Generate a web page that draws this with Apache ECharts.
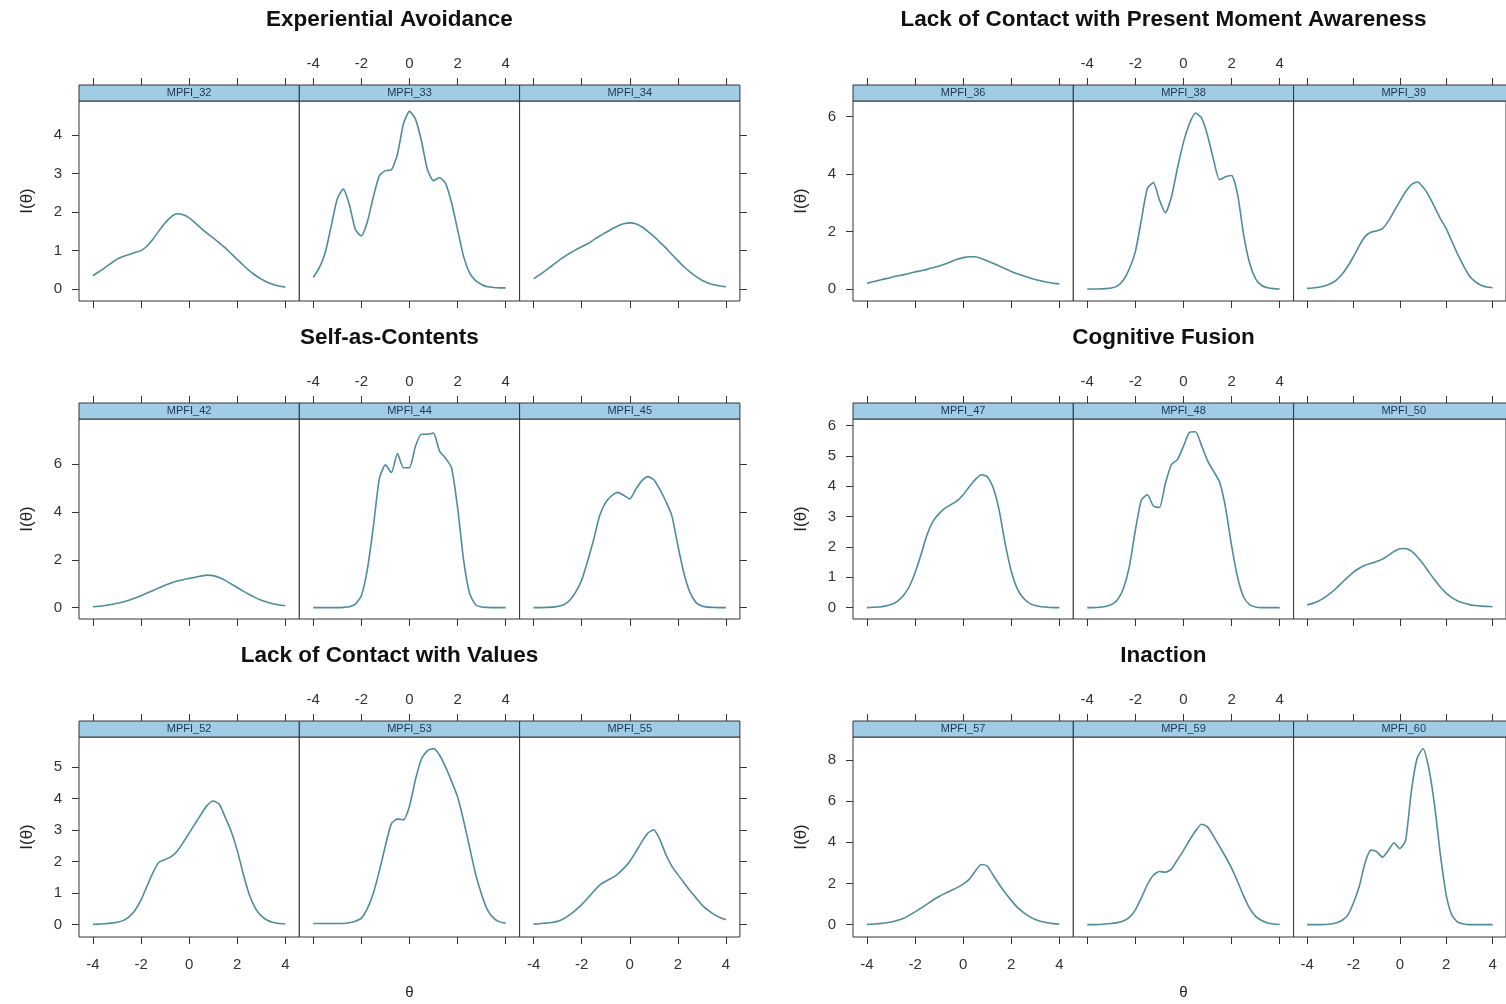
<!DOCTYPE html>
<html>
<head>
<meta charset="utf-8">
<title>Item information curves</title>
<script src="https://cdn.jsdelivr.net/npm/echarts@6/dist/echarts.min.js"></script>
<style>
  html, body { margin: 0; padding: 0; background: #ffffff; }
  #main { width: 1506px; height: 1004px; }
</style>
</head>
<body>
<div id="main"></div>
<script>
// ---- data -------------------------------------------------------------
const theta = [-4, -3.75, -3.5, -3.25, -3, -2.75, -2.5, -2.25, -2, -1.75, -1.5, -1.25, -1, -0.75, -0.5, -0.25,
  0, 0.25, 0.5, 0.75, 1, 1.25, 1.5, 1.75, 2, 2.25, 2.5, 2.75, 3, 3.25, 3.5, 3.75, 4];

const groupTitles = ['Experiential Avoidance', 'Lack of Contact with Present Moment Awareness',
  'Self-as-Contents', 'Cognitive Fusion', 'Lack of Contact with Values', 'Inaction'];

const groupItems = [
  ['MPFI_32', 'MPFI_33', 'MPFI_34'],
  ['MPFI_36', 'MPFI_38', 'MPFI_39'],
  ['MPFI_42', 'MPFI_44', 'MPFI_45'],
  ['MPFI_47', 'MPFI_48', 'MPFI_50'],
  ['MPFI_52', 'MPFI_53', 'MPFI_55'],
  ['MPFI_57', 'MPFI_59', 'MPFI_60']
];

const xTickValues = [-4, -2, 0, 2, 4];
const yTickValues = [
  [0, 1, 2, 3, 4],
  [0, 2, 4, 6],
  [0, 2, 4, 6],
  [0, 1, 2, 3, 4, 5, 6],
  [0, 1, 2, 3, 4, 5],
  [0, 2, 4, 6, 8]
];

// item information I(theta) at each theta
const MPFI_32 = [0.35, 0.45, 0.56, 0.67, 0.78, 0.85, 0.9, 0.95, 1.0, 1.12, 1.3, 1.52, 1.72, 1.88, 1.96, 1.93,
  1.85, 1.72, 1.58, 1.45, 1.33, 1.2, 1.07, 0.92, 0.77, 0.62, 0.48, 0.36, 0.26, 0.18, 0.12, 0.08, 0.05];
const MPFI_33 = [0.3, 0.55, 0.95, 1.65, 2.35, 2.6, 2.2, 1.55, 1.38, 1.75, 2.4, 2.95, 3.08, 3.1, 3.5, 4.3,
  4.62, 4.42, 3.85, 3.1, 2.82, 2.9, 2.75, 2.25, 1.55, 0.85, 0.42, 0.22, 0.12, 0.06, 0.04, 0.03, 0.03];
const MPFI_34 = [0.27, 0.37, 0.48, 0.6, 0.72, 0.83, 0.93, 1.02, 1.1, 1.18, 1.28, 1.38, 1.47, 1.56, 1.64, 1.7,
  1.72, 1.7, 1.62, 1.5, 1.37, 1.22, 1.07, 0.9, 0.74, 0.58, 0.45, 0.33, 0.23, 0.16, 0.11, 0.08, 0.06];

const MPFI_36 = [0.2, 0.25, 0.3, 0.35, 0.4, 0.45, 0.49, 0.54, 0.59, 0.63, 0.68, 0.74, 0.8, 0.87, 0.95, 1.03,
  1.09, 1.12, 1.12, 1.06, 0.98, 0.89, 0.8, 0.7, 0.61, 0.53, 0.46, 0.39, 0.33, 0.28, 0.23, 0.2, 0.17];
const MPFI_38 = [0, 0, 0, 0.01, 0.03, 0.1, 0.3, 0.7, 1.3, 2.4, 3.5, 3.7, 3.1, 2.65, 3.2, 4.2,
  5.1, 5.75, 6.12, 5.95, 5.35, 4.5, 3.8, 3.9, 3.95, 3.3, 1.9, 0.9, 0.35, 0.12, 0.04, 0.01, 0];
const MPFI_39 = [0.02, 0.03, 0.06, 0.1, 0.18, 0.3, 0.5, 0.78, 1.12, 1.5, 1.82, 1.97, 2.02, 2.1, 2.35, 2.7,
  3.05, 3.38, 3.63, 3.72, 3.55, 3.25, 2.85, 2.45, 2.1, 1.65, 1.2, 0.8, 0.45, 0.25, 0.13, 0.07, 0.04];

const MPFI_42 = [0.04, 0.06, 0.09, 0.13, 0.18, 0.24, 0.31, 0.4, 0.5, 0.61, 0.72, 0.83, 0.94, 1.03, 1.11, 1.17,
  1.22, 1.27, 1.32, 1.36, 1.34, 1.26, 1.14, 0.99, 0.84, 0.69, 0.55, 0.42, 0.31, 0.23, 0.16, 0.11, 0.08];
const MPFI_44 = [0, 0, 0, 0, 0, 0.01, 0.04, 0.15, 0.5, 1.6, 3.4, 5.4, 5.97, 5.65, 6.45, 5.85,
  5.85, 6.75, 7.25, 7.25, 7.3, 6.55, 6.25, 5.85, 4.2, 2.0, 0.6, 0.12, 0.03, 0.01, 0, 0, 0];
const MPFI_45 = [0, 0, 0.01, 0.02, 0.05, 0.12, 0.3, 0.65, 1.15, 1.95, 2.85, 3.85, 4.4, 4.68, 4.82, 4.7,
  4.55, 4.95, 5.3, 5.48, 5.35, 4.95, 4.45, 3.85, 2.6, 1.45, 0.65, 0.22, 0.07, 0.02, 0.01, 0, 0];

const MPFI_47 = [0, 0.01, 0.02, 0.05, 0.1, 0.2, 0.38, 0.68, 1.15, 1.75, 2.4, 2.85, 3.1, 3.28, 3.4, 3.52,
  3.72, 3.98, 4.22, 4.38, 4.32, 3.95, 3.2, 2.1, 1.2, 0.62, 0.32, 0.15, 0.07, 0.03, 0.01, 0, 0];
const MPFI_48 = [0, 0, 0.01, 0.04, 0.1, 0.25, 0.62, 1.35, 2.55, 3.55, 3.72, 3.35, 3.3, 4.1, 4.72, 4.88,
  5.32, 5.78, 5.8, 5.35, 4.85, 4.5, 4.15, 3.3, 2.05, 1.0, 0.35, 0.1, 0.02, 0, 0, 0, 0];
const MPFI_50 = [0.09, 0.14, 0.22, 0.33, 0.47, 0.63, 0.82, 1.0, 1.17, 1.3, 1.4, 1.46, 1.52, 1.6, 1.72, 1.85,
  1.94, 1.95, 1.86, 1.68, 1.45, 1.18, 0.92, 0.68, 0.48, 0.33, 0.22, 0.15, 0.1, 0.07, 0.05, 0.04, 0.03];

const MPFI_52 = [0, 0.01, 0.02, 0.04, 0.07, 0.12, 0.24, 0.45, 0.78, 1.22, 1.65, 1.98, 2.06, 2.15, 2.32, 2.6,
  2.9, 3.2, 3.5, 3.78, 3.92, 3.82, 3.4, 2.95, 2.35, 1.6, 0.95, 0.52, 0.27, 0.13, 0.06, 0.03, 0.02];
const MPFI_53 = [0.03, 0.03, 0.03, 0.03, 0.03, 0.03, 0.05, 0.1, 0.2, 0.5, 1.0, 1.7, 2.5, 3.2, 3.35, 3.32,
  3.75, 4.6, 5.25, 5.52, 5.58, 5.38, 5.0, 4.55, 4.05, 3.3, 2.45, 1.6, 0.95, 0.45, 0.2, 0.08, 0.04];
const MPFI_55 = [0.01, 0.02, 0.04, 0.06, 0.1, 0.18, 0.3, 0.45, 0.63, 0.83, 1.05, 1.25, 1.37, 1.47, 1.6, 1.78,
  2.0, 2.3, 2.62, 2.9, 3.0, 2.7, 2.22, 1.85, 1.58, 1.33, 1.08, 0.85, 0.62, 0.45, 0.32, 0.22, 0.15];

const MPFI_57 = [0.01, 0.03, 0.05, 0.08, 0.13, 0.2, 0.3, 0.45, 0.62, 0.8, 1.0, 1.2, 1.37, 1.52, 1.66, 1.8,
  1.97, 2.2, 2.6, 2.92, 2.85, 2.4, 1.95, 1.55, 1.18, 0.85, 0.6, 0.4, 0.25, 0.15, 0.09, 0.05, 0.03];
const MPFI_59 = [0, 0, 0.01, 0.03, 0.06, 0.1, 0.18, 0.35, 0.72, 1.3, 1.95, 2.4, 2.58, 2.55, 2.7, 3.15,
  3.6, 4.1, 4.55, 4.88, 4.75, 4.3, 3.8, 3.3, 2.75, 2.1, 1.4, 0.8, 0.4, 0.2, 0.08, 0.03, 0.01];
const MPFI_60 = [0, 0, 0, 0.01, 0.03, 0.08, 0.2, 0.45, 1.05, 1.85, 3.0, 3.62, 3.55, 3.28, 3.6, 3.98,
  3.7, 4.1, 6.5, 8.1, 8.55, 7.6, 5.8, 3.4, 1.45, 0.45, 0.12, 0.03, 0, 0, 0, 0, 0];

const groupSeries = [
  [MPFI_32, MPFI_33, MPFI_34],
  [MPFI_36, MPFI_38, MPFI_39],
  [MPFI_42, MPFI_44, MPFI_45],
  [MPFI_47, MPFI_48, MPFI_50],
  [MPFI_52, MPFI_53, MPFI_55],
  [MPFI_57, MPFI_59, MPFI_60]
];

// ---- layout -----------------------------------------------------------
const GROUP_LEFT = [79, 853];
const PANEL_W = 220.3;
const ROW_TOP = [101, 419, 737];
const PLOT_H = 200;
const STRIP_H = 16;
const X_RANGE = [-4.58, 4.58];
const Y_RANGE = [[-0.31, 4.89], [-0.42, 6.54], [-0.475, 7.89], [-0.375, 6.22], [-0.4, 5.95], [-0.6, 9.12]];

const FONT = '"Liberation Sans", Arial, sans-serif';
const AXIS_COLOR = '#333333';
const LINE_COLOR = '#4e8c9c';
const STRIP_FILL = '#a1cce5';

const grids = [], xAxes = [], yAxes = [], series = [], graphics = [];

for (let g = 0; g < groupTitles.length; g++) {
  const row = Math.floor(g / 2);
  const col = g % 2;
  const top = ROW_TOP[row];
  const gLeft = GROUP_LEFT[col];

  // group title
  graphics.push({
    type: 'text', x: gLeft + 1.5 * PANEL_W - 20, y: top - 81, z: 20,
    style: { text: groupTitles[g], font: 'bold 22.5px ' + FONT, fill: '#111111',
      textAlign: 'center', textVerticalAlign: 'middle' }
  });
  // y-axis title
  graphics.push({
    type: 'text', x: gLeft - 52, y: top + PLOT_H / 2, rotation: Math.PI / 2, z: 20,
    style: { text: 'I(θ)', font: '17px ' + FONT, fill: '#222222',
      textAlign: 'center', textVerticalAlign: 'middle' }
  });
  // x-axis title under the last row
  if (row === 2) {
    graphics.push({
      type: 'text', x: gLeft + 1.5 * PANEL_W, y: 993, z: 20,
      style: { text: 'θ', font: '15px ' + FONT, fill: '#222222',
        textAlign: 'center', textVerticalAlign: 'middle' }
    });
  }

  for (let p = 0; p < 3; p++) {
    const idx = g * 3 + p;
    const left = gLeft + p * PANEL_W;

    grids.push({
      left: left, top: top, width: PANEL_W, height: PLOT_H,
      show: true, borderColor: AXIS_COLOR, borderWidth: 1, backgroundColor: '#ffffff'
    });

    const xBase = {
      gridIndex: idx, type: 'value', min: X_RANGE[0], max: X_RANGE[1],
      axisLine: { show: false, onZero: false }, splitLine: { show: false },
      axisTick: { show: true, length: 7, customValues: xTickValues,
        lineStyle: { color: AXIS_COLOR, width: 1 } }
    };
    // bottom ticks (labels on outer panels of the last row)
    xAxes.push(Object.assign({}, xBase, {
      position: 'bottom',
      axisLabel: { show: row === 2 && p !== 1, customValues: xTickValues, margin: 20,
        fontSize: 15, fontFamily: FONT, color: '#333333' }
    }));
    // top ticks above the strip (labels on the middle panel)
    xAxes.push(Object.assign({}, xBase, {
      position: 'top', offset: STRIP_H,
      axisLabel: { show: p === 1, customValues: xTickValues, margin: 14,
        fontSize: 15, fontFamily: FONT, color: '#333333' }
    }));

    yAxes.push({
      gridIndex: idx, type: 'value', position: p === 2 ? 'right' : 'left',
      min: Y_RANGE[g][0], max: Y_RANGE[g][1],
      axisLine: { show: false, onZero: false }, splitLine: { show: false },
      axisTick: { show: p !== 1, length: 7, customValues: yTickValues[g],
        lineStyle: { color: AXIS_COLOR, width: 1 } },
      axisLabel: { show: p === 0, customValues: yTickValues[g], margin: 17,
        fontSize: 15, fontFamily: FONT, color: '#333333' }
    });

    series.push({
      type: 'line', name: groupItems[g][p],
      xAxisIndex: idx * 2, yAxisIndex: idx,
      data: theta.map((t, i) => [t, groupSeries[g][p][i]]),
      smooth: 0.2, showSymbol: false, clip: true,
      lineStyle: { color: LINE_COLOR, width: 1.6 },
      silent: true
    });

    // strip with the item name
    graphics.push({
      type: 'rect', z: 10,
      shape: { x: left, y: top - STRIP_H, width: PANEL_W, height: STRIP_H },
      style: { fill: STRIP_FILL, stroke: AXIS_COLOR, lineWidth: 1 }
    });
    graphics.push({
      type: 'text', z: 11, x: left + PANEL_W / 2, y: top - STRIP_H / 2,
      style: { text: groupItems[g][p], font: '11px ' + FONT, fill: '#1c3553',
        textAlign: 'center', textVerticalAlign: 'middle' }
    });
  }
}

const chart = echarts.init(document.getElementById('main'));
chart.setOption({
  backgroundColor: '#ffffff',
  animation: false,
  grid: grids,
  xAxis: xAxes,
  yAxis: yAxes,
  series: series,
  graphic: { elements: graphics }
});
</script>
</body>
</html>
